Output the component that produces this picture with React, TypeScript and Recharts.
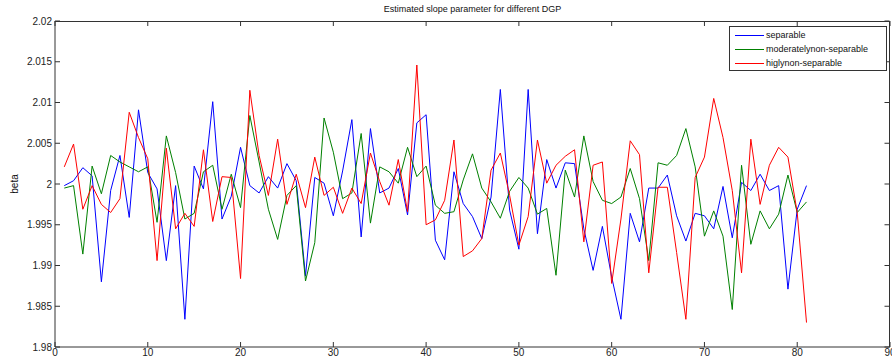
import React from "react";
import { Line, LineChart, XAxis, YAxis } from "recharts";

// x = 1..81 for every series
const separable = [
  1.9998, 2.0004, 2.002, 2.001, 1.988, 1.9992, 2.0035, 1.9959, 2.0091, 2.0014,
  1.9994, 1.9906, 1.9998, 1.9834, 2.0022, 1.9994, 2.0101, 1.9957, 1.9985, 2.0045,
  1.9998, 1.9989, 2.0009, 1.9995, 2.0025, 2.0004, 1.9887, 2.0008, 2.0001, 1.9961,
  2.0016, 2.0079, 1.9935, 2.0068, 1.9989, 1.9995, 2.0019, 1.9962, 2.0075, 2.0085,
  1.9931, 1.9907, 2.0015, 1.9976, 1.996, 1.9933, 1.9984, 2.0116, 1.9968, 1.992,
  2.0116, 1.9939, 2.003, 1.9995, 2.0026, 2.0025, 1.9945, 1.9894, 1.9948, 1.9886,
  1.9834, 1.9964, 1.9929, 1.9995, 1.9995, 2.0011, 1.9961, 1.993, 1.9964, 1.9961,
  1.9945, 1.9997, 1.9934, 2.0002, 1.9992, 2.0012, 1.9992, 1.9998, 1.9871, 1.9969,
  1.9998,
];

const moderately = [
  1.9995, 1.9998, 1.9914, 2.0022, 1.9988, 2.0035, 2.0027, 2.0021, 2.0015, 2.0021,
  1.9953, 2.0059, 2.0014, 1.9957, 1.9964, 2.0015, 2.0023, 1.9969, 2.0012, 1.9971,
  2.0084, 2.0027, 1.9969, 1.9932, 1.9986, 1.9998, 1.9881, 1.9928, 2.0081, 2.0039,
  1.9982, 1.9989, 2.0062, 1.9952, 2.0021, 2.0015, 2.0001, 2.0045, 2.0009, 2.0022,
  1.9974, 1.9964, 1.9966, 2.0005, 2.0037, 1.9995, 1.9978, 1.9958, 1.9991, 2.0008,
  1.9995, 1.9963, 1.997, 1.9888, 2.0017, 1.9984, 2.0059, 2.0003, 1.998, 1.9976,
  1.9984, 2.0019, 1.9982, 1.9906, 2.0026, 2.0023, 2.0035, 2.0068, 2.0021, 1.9936,
  1.9967, 1.9936, 1.9846, 2.0023, 1.9926, 1.9967, 1.9945, 1.9963, 2.0011, 1.9965,
  1.9978,
];

const highly = [
  2.0021, 2.0049, 1.9969, 1.9998, 1.9975, 1.9965, 1.9982, 2.0088, 2.0057, 2.0031,
  1.9906, 2.0044, 1.9945, 1.9964, 1.9948, 2.0042, 1.9954, 2.0009, 2.0008, 1.9884,
  2.0115, 2.0035, 1.9986, 2.0055, 1.9975, 2.0012, 1.9971, 2.0033, 1.9986, 1.9996,
  1.9964, 1.9995, 1.9976, 2.0038, 2.0003, 1.9974, 2.003, 1.9966, 2.0146, 1.995,
  1.9956, 1.998, 2.0054, 1.9911, 1.9918, 1.9933, 2.0017, 2.0038, 1.9986, 1.9925,
  1.996, 2.0054, 2.0001, 2.0023, 2.0034, 2.0042, 1.9929, 2.0023, 2.0027, 1.9878,
  1.9957, 2.0053, 2.0036, 1.9891, 1.9996, 1.9996, 1.9916, 1.9834, 2.0008, 2.0033,
  2.0105, 2.0057, 1.9992, 1.9891, 2.0055, 1.9975, 2.0023, 2.0045, 2.0033, 1.9965,
  1.983,
];

const xTicks = [0, 10, 20, 30, 40, 50, 60, 70, 80, 90];
const yTicks = [1.98, 1.985, 1.99, 1.995, 2, 2.005, 2.01, 2.015, 2.02];

const seriesInfo = [
  { key: "separable", name: "separable", color: "#0000ff" },
  { key: "moderately", name: "moderatelynon-separable", color: "#008000" },
  { key: "highly", name: "higlynon-separable", color: "#ff0000" },
];

const data = separable.map((v, i) => ({
  x: i + 1,
  separable: v,
  moderately: moderately[i],
  highly: highly[i],
}));

const FONT = "'Liberation Sans', Arial, sans-serif";
const AXIS = "#333";
const TICK_LEN = 5;
// plot frame edges (px)
const PLOT_LEFT = 55;
const PLOT_TOP = 21;
const PLOT_RIGHT = 890;
const PLOT_BOTTOM = 347;

const LeftTick = (props: any) => {
  const { x, y, payload } = props;
  return (
    <g>
      <line x1={x + 3} x2={x + 3 + TICK_LEN} y1={y} y2={y} stroke={AXIS} />
      <line x1={PLOT_RIGHT - 0.5} x2={PLOT_RIGHT - 0.5 - TICK_LEN} y1={y} y2={y} stroke={AXIS} />
      <text x={x} y={y} dy="0.35em" textAnchor="end" fontSize={10} fontFamily={FONT} fill="#222">
        {String(payload.value)}
      </text>
    </g>
  );
};

const BottomTick = (props: any) => {
  const { x, y, payload } = props;
  return (
    <g>
      <line x1={x} x2={x} y1={y - 1} y2={y - 1 - TICK_LEN} stroke={AXIS} />
      <line x1={x} x2={x} y1={PLOT_TOP} y2={PLOT_TOP + TICK_LEN} stroke={AXIS} />
      <text x={x} y={y} dy="0.75em" textAnchor="middle" fontSize={10} fontFamily={FONT} fill="#222">
        {String(payload.value)}
      </text>
    </g>
  );
};

const LegendBox = () => (
  <div
    style={{
      position: "absolute",
      left: 729,
      top: 26,
      width: 156,
      height: 43,
      border: `1px solid ${AXIS}`,
      background: "#fff",
      fontFamily: FONT,
      fontSize: 9,
      color: "#111",
    }}
  >
    {seriesInfo.map((s, i) => (
      <div
        key={s.key}
        style={{ position: "absolute", top: 1 + i * 14.2, left: 0, display: "flex", alignItems: "center", height: 14 }}
      >
        <div style={{ width: 29, height: 1, background: s.color, marginLeft: 5, marginRight: 2 }} />
        <span>{s.name}</span>
      </div>
    ))}
  </div>
);

export default function App() {
  return (
    <div style={{ position: "absolute", left: 0, top: 0, width: 892, height: 360, background: "#fff" }}>
      <LineChart width={892} height={360} data={data} margin={{ top: PLOT_TOP, right: 892 - PLOT_RIGHT, bottom: 0, left: 0 }}>
        <XAxis
          dataKey="x"
          type="number"
          domain={[0, 90]}
          ticks={xTicks}
          height={360 - PLOT_BOTTOM}
          tickSize={0}
          tickMargin={1}
          tickLine={false}
          tick={<BottomTick />}
          axisLine={{ stroke: AXIS }}
          interval={0}
        />
        <YAxis
          type="number"
          domain={[1.98, 2.02]}
          ticks={yTicks}
          width={PLOT_LEFT}
          tickSize={0}
          tickMargin={3}
          tickLine={false}
          tick={<LeftTick />}
          axisLine={{ stroke: AXIS }}
          interval={0}
          allowDataOverflow
        />
        {seriesInfo.map((s) => (
          <Line
            key={s.key}
            type="linear"
            dataKey={s.key}
            name={s.name}
            stroke={s.color}
            strokeWidth={1}
            dot={false}
            isAnimationActive={false}
          />
        ))}
      </LineChart>
      {/* top and right edges of the axes box */}
      <div
        style={{
          position: "absolute",
          left: PLOT_LEFT,
          top: PLOT_TOP,
          width: PLOT_RIGHT - PLOT_LEFT,
          height: PLOT_BOTTOM - PLOT_TOP,
          borderTop: `1px solid ${AXIS}`,
          borderRight: `1px solid ${AXIS}`,
          boxSizing: "border-box",
          pointerEvents: "none",
        }}
      />
      <div
        style={{
          position: "absolute",
          left: PLOT_LEFT,
          width: PLOT_RIGHT - PLOT_LEFT,
          top: 4,
          textAlign: "center",
          fontFamily: FONT,
          fontSize: 9,
          color: "#111",
        }}
      >
        Estimated slope parameter for different DGP
      </div>
      <div
        style={{
          position: "absolute",
          left: 14,
          top: 184,
          transform: "translate(-50%, -50%) rotate(-90deg)",
          fontFamily: FONT,
          fontSize: 10,
          color: "#111",
        }}
      >
        beta
      </div>
      <LegendBox />
    </div>
  );
}
